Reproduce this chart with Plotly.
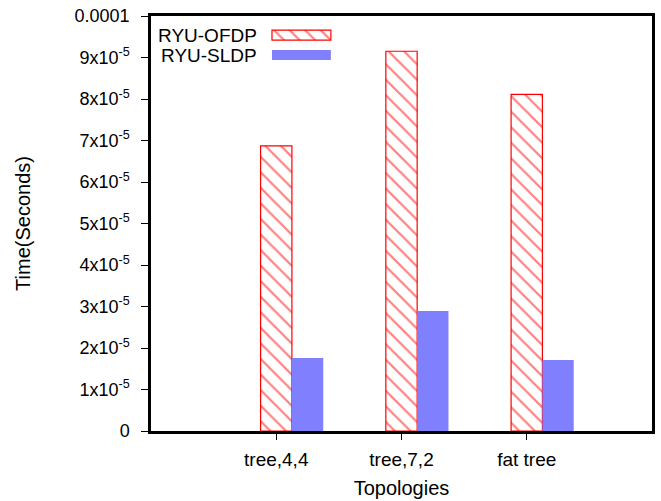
import plotly.graph_objects as go

# Topology discovery time per controller module
topologies = ["tree,4,4", "tree,7,2", "fat tree"]
ofdp_time = [6.87e-5, 9.15e-5, 8.11e-5]
sldp_time = [1.76e-5, 2.89e-5, 1.71e-5]

series_names = ["RYU-OFDP", "RYU-SLDP"]
ytick_vals = [i * 1e-5 for i in range(11)]
ytick_text = ["0"] + [f"{i}x10<sup>-5</sup>" for i in range(1, 10)] + ["0.0001"]

RED = "#ff0000"
BLUE = "#8080ff"
FONT = "Liberation Sans, Arial, sans-serif"
BAR_W = 0.25

hatch = dict(shape="\\", fgcolor=RED, bgcolor="white", size=11, solidity=0.2)

fig = go.Figure()

fig.add_trace(go.Bar(
    x=topologies, y=ofdp_time, width=BAR_W, offset=-BAR_W / 2,
    marker=dict(color="white", pattern=hatch, line=dict(color=RED, width=1.2)),
    showlegend=False, name=series_names[0],
))
fig.add_trace(go.Bar(
    x=topologies, y=sldp_time, width=BAR_W, offset=BAR_W / 2,
    marker=dict(color=BLUE, line=dict(width=0)),
    showlegend=False, name=series_names[1],
))

# Key swatches drawn on a hidden overlay axis (fractions of the plot area)
key_x0, key_len, key_h = 0.2415, 0.1175, 0.024
key_rows = [0.954, 0.906]
fig.add_trace(go.Bar(
    y=[key_rows[0]], x=[key_len], base=[key_x0], orientation="h", width=key_h,
    marker=dict(color="white", pattern=hatch, line=dict(color=RED, width=1.2)),
    xaxis="x2", yaxis="y2", showlegend=False, hoverinfo="skip",
))
fig.add_trace(go.Bar(
    y=[key_rows[1]], x=[key_len], base=[key_x0], orientation="h", width=key_h,
    marker=dict(color=BLUE, line=dict(width=0)),
    xaxis="x2", yaxis="y2", showlegend=False, hoverinfo="skip",
))
for name, yy in zip(series_names, key_rows):
    fig.add_annotation(
        text=name, xref="x2", yref="y2", x=0.2156, y=yy,
        xanchor="right", yanchor="middle", showarrow=False,
        font=dict(family=FONT, size=19, color="black"),
    )

fig.update_layout(
    width=661, height=501,
    margin=dict(l=151, r=9, t=16, b=70),
    paper_bgcolor="white", plot_bgcolor="white",
    barmode="overlay",
    font=dict(family=FONT, color="black"),
    xaxis=dict(
        type="category", categoryorder="array", categoryarray=topologies,
        range=[-1, 3], showgrid=False, zeroline=False, automargin=False,
        showline=True, linecolor="black", linewidth=2.5, mirror=True,
        ticks="outside", ticklen=6, tickwidth=1, tickcolor="black",
        tickfont=dict(size=19), ticklabelstandoff=3,
        title=dict(text="Topologies", font=dict(size=20), standoff=13),
    ),
    yaxis=dict(
        range=[0, 1e-4], tickvals=ytick_vals, ticktext=ytick_text,
        showgrid=False, zeroline=False, automargin=False,
        showline=True, linecolor="black", linewidth=2.5, mirror=True,
        ticks="outside", ticklen=7, tickwidth=1, tickcolor="black",
        tickfont=dict(size=18), ticklabelstandoff=8,
        title=dict(text="Time(Seconds)", font=dict(size=20), standoff=39),
    ),
    xaxis2=dict(overlaying="x", anchor="y2", range=[0, 1], visible=False),
    yaxis2=dict(overlaying="y", anchor="x2", range=[0, 1], visible=False),
)

fig.write_html("out.html")
